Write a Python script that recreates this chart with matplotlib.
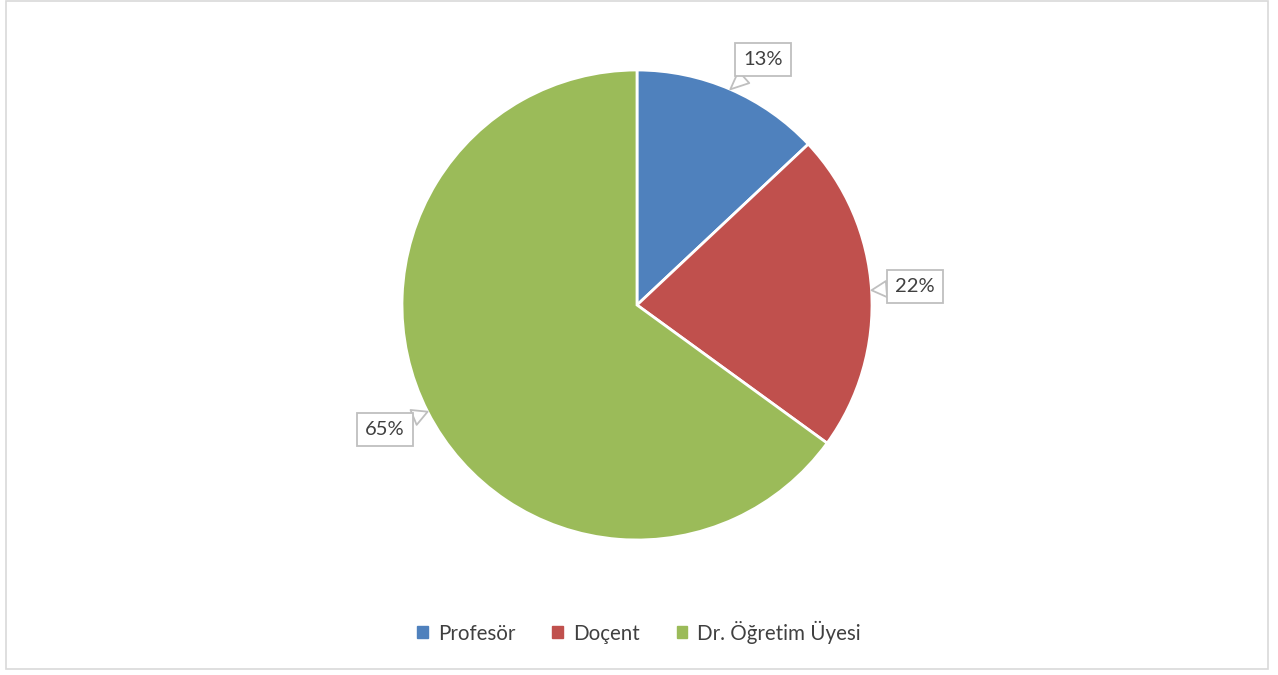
import matplotlib.pyplot as plt
from matplotlib.patches import Rectangle
import numpy as np

plt.rcParams["font.family"] = ["Lato", "DejaVu Sans"]

labels = ["Profesör", "Doçent", "Dr. Öğretim Üyesi"]
shares = [13, 22, 65]
colors = ["#4F81BD", "#C0504D", "#9BBB59"]
# callout box centres in data units (pie radius = 1)
label_pos = [(0.536, 1.043), (1.183, 0.077), (-1.072, -0.528)]

W, H = 1278, 675
fig = plt.figure(figsize=(W / 100, H / 100), dpi=100)

# outer chart border
fig.patches.append(Rectangle((6 / W, 1 - 669 / H), 1262 / W, 668 / H,
                             transform=fig.transFigure, fill=False,
                             edgecolor="#D9D9D9", linewidth=1.2))

cx, cy, r = 637, 305, 235
ax = fig.add_axes([(cx - r) / W, 1 - (cy + r) / H, 2 * r / W, 2 * r / H])
wedges, _ = ax.pie(shares, colors=colors, startangle=90, counterclock=False,
                   radius=1, wedgeprops=dict(edgecolor="white", linewidth=2))
ax.set_xlim(-1, 1)
ax.set_ylim(-1, 1)
ax.set_aspect("equal")
ax.axis("off")

for w, v, (tx, ty) in zip(wedges, shares, label_pos):
    ang = np.deg2rad((w.theta1 + w.theta2) / 2)
    px, py = np.cos(ang), np.sin(ang)
    ax.annotate(f"{v}%", xy=(px, py), xytext=(tx, ty),
                ha="center", va="center", fontsize=14.5, color="#404040",
                bbox=dict(boxstyle="square,pad=0.4", fc="white",
                          ec="#BFBFBF", lw=1.3),
                arrowprops=dict(arrowstyle="wedge,tail_width=0.8",
                                fc="white", ec="#BFBFBF", lw=1.3,
                                shrinkA=0, shrinkB=0),
                annotation_clip=False)

handles = [Rectangle((0, 0), 1, 1, color=c) for c in colors]
fig.legend(handles, labels, loc="center", bbox_to_anchor=(0.5, 1 - 632 / H),
           ncol=3, frameon=False, fontsize=14.8, handlelength=0.5,
           handleheight=0.5, handletextpad=0.5, columnspacing=1.8,
           labelcolor="#404040")

fig.savefig("out.png", dpi=100)
